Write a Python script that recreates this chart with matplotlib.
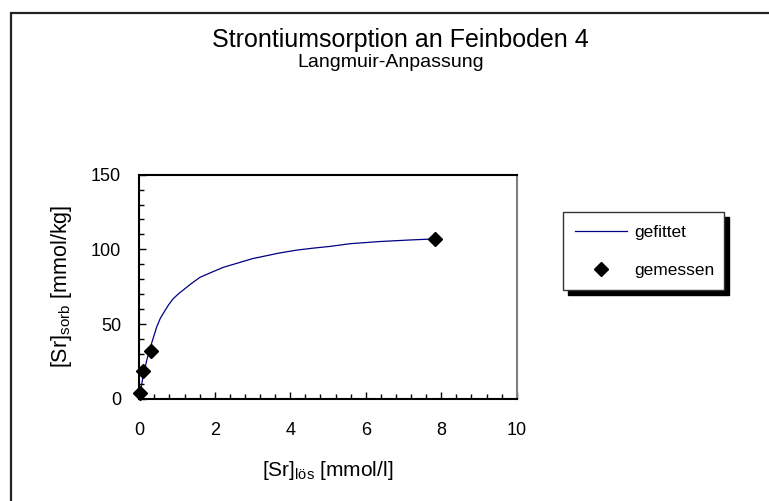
import numpy as np
import matplotlib
matplotlib.use("Agg")
import matplotlib.pyplot as plt
from matplotlib.patches import Rectangle
from matplotlib.ticker import MultipleLocator

plt.rcParams['font.family'] = ['Liberation Sans', 'DejaVu Sans']

# Langmuir fit
c_fit = [0.02, 0.1, 0.2, 0.3, 0.46, 0.56, 0.68, 0.78, 0.9, 1.05, 1.26, 1.4, 1.61, 1.9,
         2.23, 2.67, 3.0, 3.38, 3.7, 4.17, 4.6, 5.06, 5.59, 6.34, 7.18, 7.83]
q_fit = [3.4, 15, 26, 35, 48, 54, 59, 63, 67, 70.5, 74.7, 77.5, 81.3, 84.5,
         88, 91.3, 93.8, 95.8, 97.5, 99.5, 100.8, 102, 103.8, 105.2, 106.3, 107]

# measured points
c_mess = [0.02, 0.09, 0.30, 7.83]
q_mess = [4, 18.7, 32, 106.7]

W, H = 769, 501
fig = plt.figure(figsize=(W / 100, H / 100), dpi=100)

# outer chart border (only left and top visible)
fig.add_artist(Rectangle((11 / W, -0.2), 2, 1.2 - 12.7 / H, transform=fig.transFigure,
                         fill=False, edgecolor='#222222', lw=1.6, clip_on=False))

ax = fig.add_axes([139.3 / W, 1 - 398.7 / H, 377.4 / W, 224 / H])

ax.plot(c_fit, q_fit, color='#000080', lw=0.9, label='gefittet')
ax.plot(c_mess, q_mess, ls='none', marker='D', ms=7, color='black',
        label='gemessen', clip_on=False, zorder=5)

ax.set_xlim(0, 10)
ax.set_ylim(0, 150)
ax.xaxis.set_major_locator(MultipleLocator(2))
ax.xaxis.set_minor_locator(MultipleLocator(0.4))
ax.yaxis.set_major_locator(MultipleLocator(50))
ax.yaxis.set_minor_locator(MultipleLocator(10))
ax.tick_params(axis='both', which='both', direction='in', color='black', width=1)
ax.tick_params(axis='both', which='major', length=5, labelsize=13)
ax.tick_params(axis='both', which='minor', length=3.5)
ax.tick_params(axis='x', which='major', pad=17)
ax.tick_params(axis='y', which='major', pad=13)

for side in ['left', 'bottom', 'top']:
    ax.spines[side].set_color('black')
    ax.spines[side].set_linewidth(1.5)
ax.spines['right'].set_color('#808080')
ax.spines['right'].set_linewidth(1.5)

ax.set_xlabel(r'[Sr]$_{\mathregular{lös}}$ [mmol/l]', fontsize=15, labelpad=14)
ax.set_ylabel(r'[Sr]$_{\mathregular{sorb}}$ [mmol/kg]', fontsize=15.5, labelpad=12)

fig.text(400 / W, 1 - 47 / H, 'Strontiumsorption an Feinboden 4', ha='center',
         va='baseline', fontsize=18)
fig.text(391 / W, 1 - 67 / H, 'Langmuir-Anpassung', ha='center', va='baseline',
         fontsize=14)

leg = ax.legend(loc='upper left', mode='expand',
                bbox_to_anchor=(562.7 / W, 1 - 212.3 / H - 0.01, 161.6 / W, 0.01),
                bbox_transform=fig.transFigure, borderaxespad=0,
                fontsize=12.5, frameon=True, fancybox=False, handlelength=3,
                handletextpad=0.4, borderpad=0.7, labelspacing=1.35,
                shadow={'ox': 3.6, 'oy': -3.6, 'facecolor': 'black',
                        'edgecolor': 'black', 'alpha': 1})
leg.get_frame().set_edgecolor('#333333')
leg.get_frame().set_linewidth(1.0)

fig.savefig('out.png', dpi=100)
